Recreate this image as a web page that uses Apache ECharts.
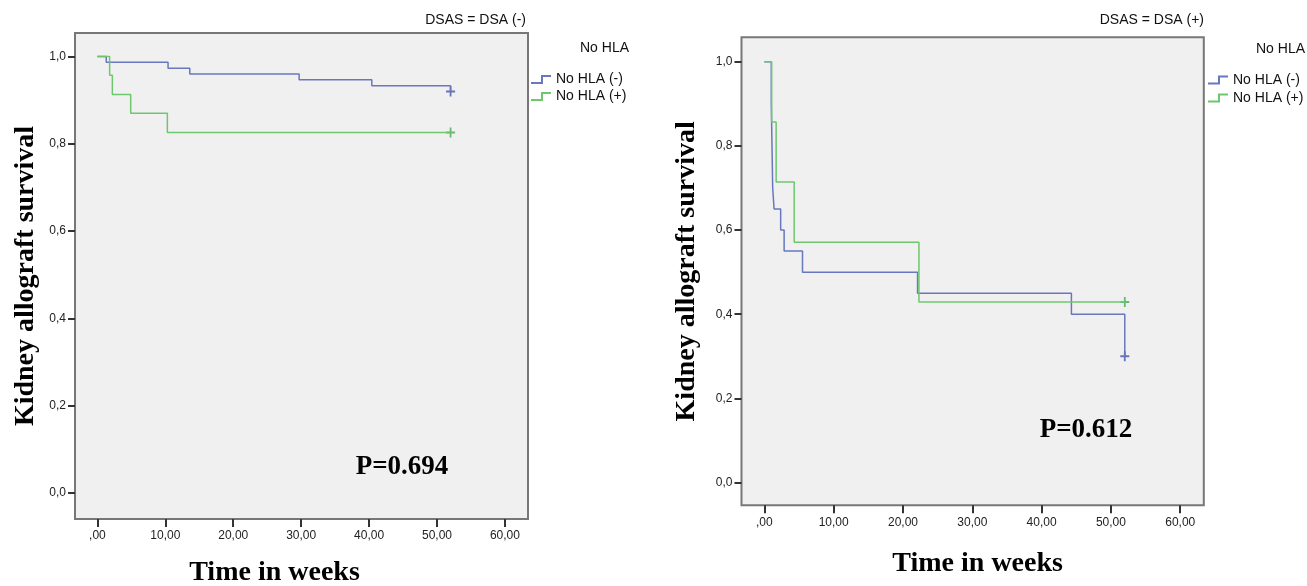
<!DOCTYPE html>
<html>
<head>
<meta charset="utf-8">
<title>Kidney allograft survival</title>
<script src="https://cdn.jsdelivr.net/npm/echarts@6/dist/echarts.min.js"></script>
<style>
    html, body { margin: 0; background: #fff; }
    #main { width: 1307px; height: 586px; }
</style>
</head>
<body>
<div id="main"></div>
<script type="text/javascript">
    // panel 1: DSAS = DSA (-)
    var weeksNegA = [0, 1.3, 10.4, 13.6, 29.7, 40.4, 52];
    var survNegA  = [1, 0.987, 0.973, 0.96, 0.947, 0.933, 0.92];
    var weeksPosA = [0, 1.8, 2.2, 4.9, 10.3, 52];
    var survPosA  = [1, 0.957, 0.913, 0.87, 0.826, 0.826];
    var censorNegA = [[52, 0.92]];
    var censorPosA = [[52, 0.826]];

    // panel 2: DSAS = DSA (+)
    var weeksNegB = [0, 1.0, 1.2, 1.4, 2.35, 2.85, 5.5, 22.1, 44.3, 52];
    var survNegB  = [1, 0.9, 0.7, 0.65, 0.6, 0.55, 0.5, 0.45, 0.4, 0.3];
    var weeksPosB = [0, 1.05, 1.7, 4.3, 22.3, 52];
    var survPosB  = [1, 0.857, 0.714, 0.571, 0.429, 0.429];
    var censorNegB = [[52, 0.3]];
    var censorPosB = [[52, 0.429]];

    var xTicks = [0, 10, 20, 30, 40, 50, 60];
    var yTicks = [0, 0.2, 0.4, 0.6, 0.8, 1.0];

    var blue = '#6877be', blueDark = '#4556a8';
    var green = '#6dc76d', greenDark = '#45ad55';
    var plus = 'path://M4,0H6V4H10V6H6V10H4V6H0V4H4Z';
    var stepIcon = 'path://M0,7H10V0H20V2H12V9H0Z';
    var serif = '"Liberation Serif", "Times New Roman", serif';
    var sans = '"Liberation Sans", Arial, sans-serif';

    function zip(xs, ys) {
        return xs.map(function (x, i) { return [x, ys[i]]; });
    }

    function xAxis(idx, gap, pad) {
        return {
            gridIndex: idx, type: 'value', min: -3.3, max: 63.4,
            axisLine: { show: false, onZero: false },
            axisTick: { customValues: xTicks, length: 8, lineStyle: { color: '#333', width: 2 } },
            axisLabel: {
                customValues: xTicks, margin: 11, fontSize: 12, color: '#222', fontFamily: sans,
                formatter: function (v) { return v === 0 ? ',00' : v.toFixed(2).replace('.', ','); }
            },
            splitLine: { show: false },
            name: 'Time in weeks', nameLocation: 'middle', nameGap: gap,
            nameTextStyle: { fontFamily: serif, fontWeight: 'bold', fontSize: 28, color: '#000', padding: pad }
        };
    }

    function yAxis(idx, min, max, gap) {
        return {
            gridIndex: idx, type: 'value', min: min, max: max,
            axisLine: { show: false, onZero: false },
            axisTick: { customValues: yTicks, length: 7, lineStyle: { color: '#333', width: 2 } },
            axisLabel: {
                customValues: yTicks, margin: 9, fontSize: 12, color: '#222', fontFamily: sans,
                formatter: function (v) { return v.toFixed(1).replace('.', ','); }
            },
            splitLine: { show: false },
            name: 'Kidney allograft survival', nameLocation: 'middle', nameGap: gap, nameRotate: 90,
            nameTextStyle: { fontFamily: serif, fontWeight: 'bold', fontSize: 28, color: '#000' }
        };
    }

    function km(name, idx, data, color) {
        return {
            type: 'line', name: name, xAxisIndex: idx, yAxisIndex: idx,
            data: data, step: 'end', symbol: 'none',
            lineStyle: { color: color, width: 1.5 }, itemStyle: { color: color }
        };
    }

    function censor(name, idx, data, color) {
        return {
            type: 'scatter', name: name, xAxisIndex: idx, yAxisIndex: idx,
            data: data, symbol: plus, symbolSize: [9, 10], itemStyle: { color: color }
        };
    }

    function legend(left, top, lh) {
        return {
            orient: 'vertical', left: left, top: top, padding: 0, itemGap: 0,
            itemWidth: 20, itemHeight: 9, icon: stepIcon,
            itemStyle: { borderWidth: 0 },
            textStyle: { fontSize: 14, lineHeight: lh, color: '#111', fontFamily: sans },
            data: ['No HLA (-)', 'No HLA (+)']
        };
    }

    var myChart = echarts.init(document.getElementById('main'));
    var option = {
        animation: false,
        title: [
            { text: 'DSAS = DSA (-)', right: 781, top: 13, padding: 0,
              textStyle: { fontSize: 14, fontWeight: 'normal', color: '#111', fontFamily: sans } },
            { text: 'DSAS = DSA (+)', right: 103, top: 13, padding: 0,
              textStyle: { fontSize: 14, fontWeight: 'normal', color: '#111', fontFamily: sans } },
            { text: 'No HLA', left: 580, top: 41, padding: 0,
              textStyle: { fontSize: 14, fontWeight: 'normal', color: '#111', fontFamily: sans } },
            { text: 'No HLA', left: 1256, top: 42, padding: 0,
              textStyle: { fontSize: 14, fontWeight: 'normal', color: '#111', fontFamily: sans } }
        ],
        legend: [legend(531, 71, 17), legend(1208, 71, 18)],
        grid: [
            { left: 75, top: 33, width: 453, height: 486, show: true, outerBoundsMode: 'none',
              backgroundColor: '#f0f0f0', borderColor: '#777', borderWidth: 2 },
            { left: 741.5, top: 37.3, width: 462.3, height: 468, show: true, outerBoundsMode: 'none',
              backgroundColor: '#f0f0f0', borderColor: '#777', borderWidth: 2 }
        ],
        xAxis: [xAxis(0, 40, [0, 54, 0, 0]), xAxis(1, 44, [0, 0, 0, 10])],
        yAxis: [yAxis(0, -0.06, 1.054, 35), yAxis(1, -0.054, 1.058, 41)],
        series: [
            km('No HLA (-)', 0, zip(weeksNegA, survNegA), blue),
            km('No HLA (+)', 0, zip(weeksPosA, survPosA), green),
            censor('cens (-)', 0, censorNegA, blueDark),
            censor('cens (+)', 0, censorPosA, greenDark),
            km('No HLA (-)', 1, zip(weeksNegB, survNegB), blue),
            km('No HLA (+)', 1, zip(weeksPosB, survPosB), green),
            censor('cens (-)', 1, censorNegB, blueDark),
            censor('cens (+)', 1, censorPosB, greenDark)
        ],
        graphic: [
            { type: 'text', x: 402, y: 467,
              style: { text: 'P=0.694', font: 'bold 27px ' + serif, fill: '#000', align: 'center', verticalAlign: 'middle' } },
            { type: 'text', x: 1086, y: 430,
              style: { text: 'P=0.612', font: 'bold 27px ' + serif, fill: '#000', align: 'center', verticalAlign: 'middle' } }
        ]
    };
    myChart.setOption(option);
</script>
</body>
</html>
